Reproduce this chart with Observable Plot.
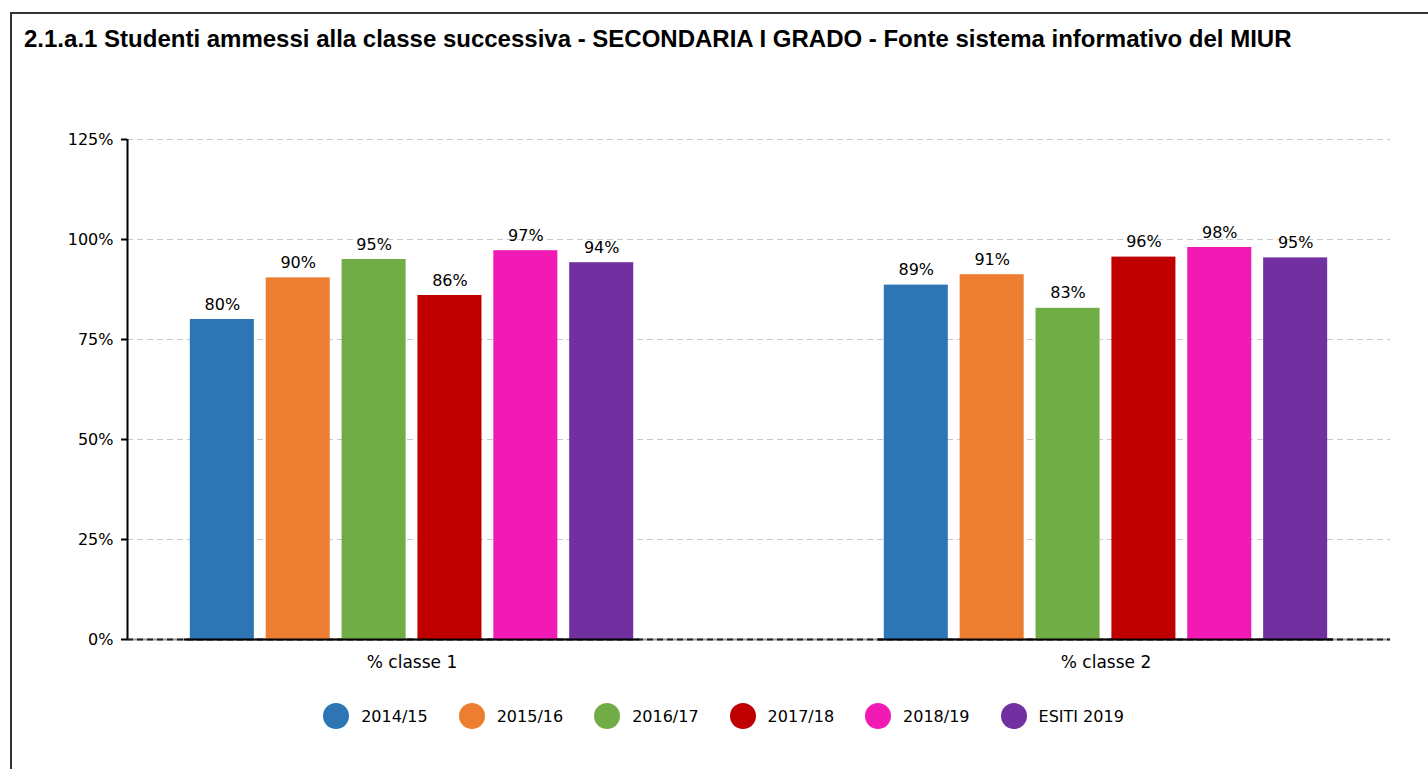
<!DOCTYPE html>
<html><head><meta charset="utf-8">
<script src="https://cdn.jsdelivr.net/npm/d3@7"></script>
<script src="https://cdn.jsdelivr.net/npm/@observablehq/plot@0.6"></script>
<style>
html,body{margin:0;padding:0;background:#fff;overflow:hidden;width:1428px;height:769px}
#frame{position:absolute;left:10px;top:12px;width:1427px;height:800px;border:2px solid #333;box-sizing:border-box}
#title{position:absolute;left:24px;top:25px;font:bold 24px "Liberation Sans",Arial,sans-serif;color:#000;white-space:nowrap}
#chart{position:absolute;left:0;top:100px;width:1428px;height:579px}
#chart svg{position:absolute;left:0;top:0}
#legend{position:absolute;left:10px;width:1427px;top:703px;display:flex;justify-content:center;gap:31px;font:16px "DejaVu Sans",sans-serif;color:#000}
.item{display:flex;align-items:center;gap:12px;height:26px}
.dot{width:26px;height:26px;border-radius:50%}
</style></head><body>
<div id="frame"></div>
<div id="title">2.1.a.1 Studenti ammessi alla classe successiva - SECONDARIA I GRADO - Fonte sistema informativo del MIUR</div>
<div id="chart"></div>
<div id="legend"></div>
<script>
const groups = ["% classe 1", "% classe 2"];
const years = ["2014/15","2015/16","2016/17","2017/18","2018/19","ESITI 2019"];
const classe1 = [0.800, 0.904, 0.950, 0.860, 0.972, 0.942];
const classe2 = [0.886, 0.912, 0.828, 0.956, 0.980, 0.954];
const colors = ["#2e75b6","#ed7d31","#70ad47","#c00000","#f11ab4","#7030a0"];
const yTicks = [0, 0.25, 0.5, 0.75, 1, 1.25];

const data = [];
[classe1, classe2].forEach((vals, gi) => vals.forEach((v, i) => data.push({group: groups[gi], year: years[i], value: v})));

const W = 1428, H = 579;
const margins = {marginLeft: 127, marginRight: 38, marginTop: 39, marginBottom: 40};
const fmt = d => Math.round(d * 100) + "%";

const back = Plot.plot({
  width: W, height: H, ...margins,
  style: {fontFamily: "DejaVu Sans, sans-serif", fontSize: "16px", background: "transparent", color: "#000"},
  x: {domain: [0, 1], axis: null},
  y: {domain: [0, 1.25], axis: null},
  marks: [
    Plot.ruleY(yTicks.slice(1), {stroke: "#c8c8c8", strokeWidth: 1, strokeDasharray: "6,4"}),
    Plot.ruleY([0], {stroke: "#999", strokeWidth: 2}),
    Plot.ruleY([0], {stroke: "#222", strokeWidth: 2, strokeDasharray: "6,4"}),
    Plot.axisY(yTicks, {tickFormat: fmt, tickSize: 6, tickPadding: 8, strokeWidth: 2, label: null, fontSize: 16}),
    Plot.ruleX([0], {stroke: "#000", strokeWidth: 2})
  ]
});

const front = Plot.plot({
  width: W, height: H, ...margins,
  style: {fontFamily: "DejaVu Sans, sans-serif", fontSize: "17px", background: "transparent", color: "#000"},
  fx: {domain: groups, paddingInner: 0.344, paddingOuter: 0.082, round: false, axis: "bottom", label: null, tickSize: 0, tickPadding: 16},
  x: {domain: years, paddingInner: 0.156, paddingOuter: 0.078, round: false, axis: null},
  y: {domain: [0, 1.25], axis: null},
  color: {domain: years, range: colors},
  marks: [
    Plot.barY(data, {fx: "group", x: "year", y: "value", fill: "year"}),
    Plot.ruleY([0], {stroke: "#000", strokeWidth: 2}),
    Plot.text(data, {fx: "group", x: "year", y: "value", text: d => fmt(d.value), lineAnchor: "middle", dy: -15, fill: "#000", fontSize: 16})
  ]
});

const chart = document.getElementById("chart");
chart.append(back, front);

const legend = document.getElementById("legend");
years.forEach((y, i) => {
  const item = document.createElement("div");
  item.className = "item";
  const dot = document.createElement("span");
  dot.className = "dot";
  dot.style.background = colors[i];
  const lab = document.createElement("span");
  lab.textContent = y;
  item.append(dot, lab);
  legend.append(item);
});
</script>
</body></html>
